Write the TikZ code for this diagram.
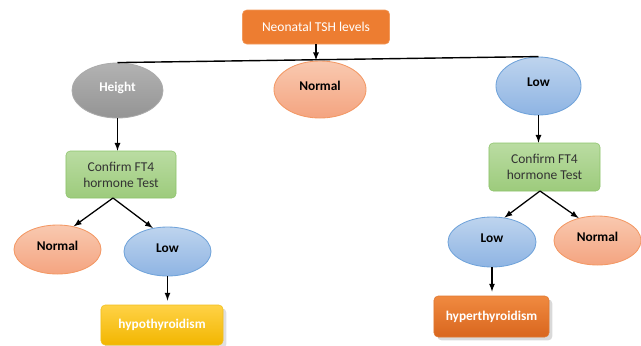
\documentclass[tikz,border=0pt]{standalone}
\usepackage{fontspec}
\setmainfont{Carlito}
\usetikzlibrary{shapes.geometric,shadows}

\definecolor{tshor}{HTML}{ED7D31}
\definecolor{tshbd}{HTML}{F29A5C}

\begin{document}
\begin{tikzpicture}[x=0.025cm, y=-0.025cm]
   \tikzstyle{box} = [rectangle, rounded corners=3pt, inner sep=0pt,
                      align=center, font=\fontsize{9.6}{11.5}\selectfont];
   \tikzstyle{ell} = [ellipse, inner sep=0pt, line width=0.6pt,
                      text height=7pt, text depth=6pt,
                      font=\fontsize{9.5}{11}\selectfont\bfseries];
   \tikzstyle{nodH} = [ell, top color=black!30, bottom color=black!42,
                       draw=black!33, text=white];
   \tikzstyle{nodN} = [ell, top color={rgb,255:red,249;green,201;blue,176},
                       bottom color={rgb,255:red,244;green,164;blue,128},
                       draw={rgb,255:red,243;green,152;blue,100}, text=black];
   \tikzstyle{nodL} = [ell, top color={rgb,255:red,190;green,212;blue,238},
                       bottom color={rgb,255:red,142;green,180;blue,227},
                       draw={rgb,255:red,112;green,163;blue,218}, text=black];
   \tikzstyle{boxG} = [box, top color={rgb,255:red,186;green,220;blue,162},
                       bottom color={rgb,255:red,157;green,203;blue,124},
                       draw={rgb,255:red,140;green,195;blue,106}, text=black!80];
   \tikzstyle{boxT} = [box, fill=tshor, draw=tshbd, text=white];
   \tikzstyle{boxY} = [box, top color={rgb,255:red,255;green,210;blue,70},
                       bottom color={rgb,255:red,242;green,182;blue,0},
                       draw={rgb,255:red,240;green,190;blue,30}, text=white,
                       font=\fontsize{9.5}{11}\selectfont\bfseries,
                       drop shadow={opacity=0.25}];
   \tikzstyle{boxO} = [box, top color={rgb,255:red,240;green,138;blue,64},
                       bottom color={rgb,255:red,217;green,102;blue,30},
                       draw={rgb,255:red,224;green,120;blue,48}, text=white,
                       font=\fontsize{9.5}{11}\selectfont\bfseries,
                       drop shadow={opacity=0.3}];
   \tikzstyle{ln} = [black, line width=1pt, -];
   \tikzstyle{arr} = [black, line width=0.9pt, ->, >=latex];

   \useasboundingbox (0,0) rectangle (641,345);

   \node[boxT, minimum width=3.675cm, minimum height=0.85cm]
        (tsh) at (316,27){Neonatal TSH levels};

   \node[nodH, minimum width=2.275cm, minimum height=1.375cm]
        (hgt) at (117.5,90.5){Height};
   \node[nodN, minimum width=2.3cm, minimum height=1.425cm]
        (nrm) at (320,89.5){Normal};
   \node[nodL, minimum width=2.125cm, minimum height=1.45cm]
        (low) at (538.5,86){Low};

   %% left branch
   \node[boxG, minimum width=2.75cm, minimum height=1.175cm]
        (cf1) at (121,174.5){Confirm FT4\\hormone Test};
   \node[nodN, minimum width=2.175cm, minimum height=1.225cm]
        (n1) at (57.5,249.5){Normal};
   \node[nodL, minimum width=2.175cm, minimum height=1.225cm]
        (l1) at (167.5,251.5){Low};
   \node[boxY, minimum width=3.05cm, minimum height=1.0cm]
        (hypo) at (162,325){hypothyroidism};

   %% right branch
   \node[boxG, minimum width=2.775cm, minimum height=1.2cm]
        (cf2) at (544.5,167){Confirm FT4\\hormone Test};
   \node[nodL, minimum width=2.2cm, minimum height=1.25cm]
        (l2) at (492,242){Low};
   \node[nodN, minimum width=2.175cm, minimum height=1.225cm]
        (n2) at (597.5,240.5){Normal};
   \node[boxO, minimum width=2.875cm, minimum height=1.025cm]
        (hyper) at (491.5,316.5){hyperthyroidism};

   \coordinate (j) at (316,60.2);
   \coordinate (s1) at (113,198);
   \coordinate (s2) at (540,191);

   \path[ln] (hgt.north) edge (low.north);
   \path[arr] (tsh.south) edge (j);

   \path[arr] (hgt.south) edge (hgt.south |- cf1.north);
   \path[arr] (s1) edge (n1.55);
   \path[arr] (s1) edge (l1.122);
   \path[arr] (l1.south) edge ([yshift=3]l1.south |- hypo.north);

   \path[arr] (low.south) edge (low.south |- cf2.north);
   \path[arr] (s2) edge (l2.63);
   \path[arr] (s2) edge (n2.130);
   \path[arr] (l2.south) edge ([yshift=3]l2.south |- hyper.north);

\end{tikzpicture}
\end{document}
